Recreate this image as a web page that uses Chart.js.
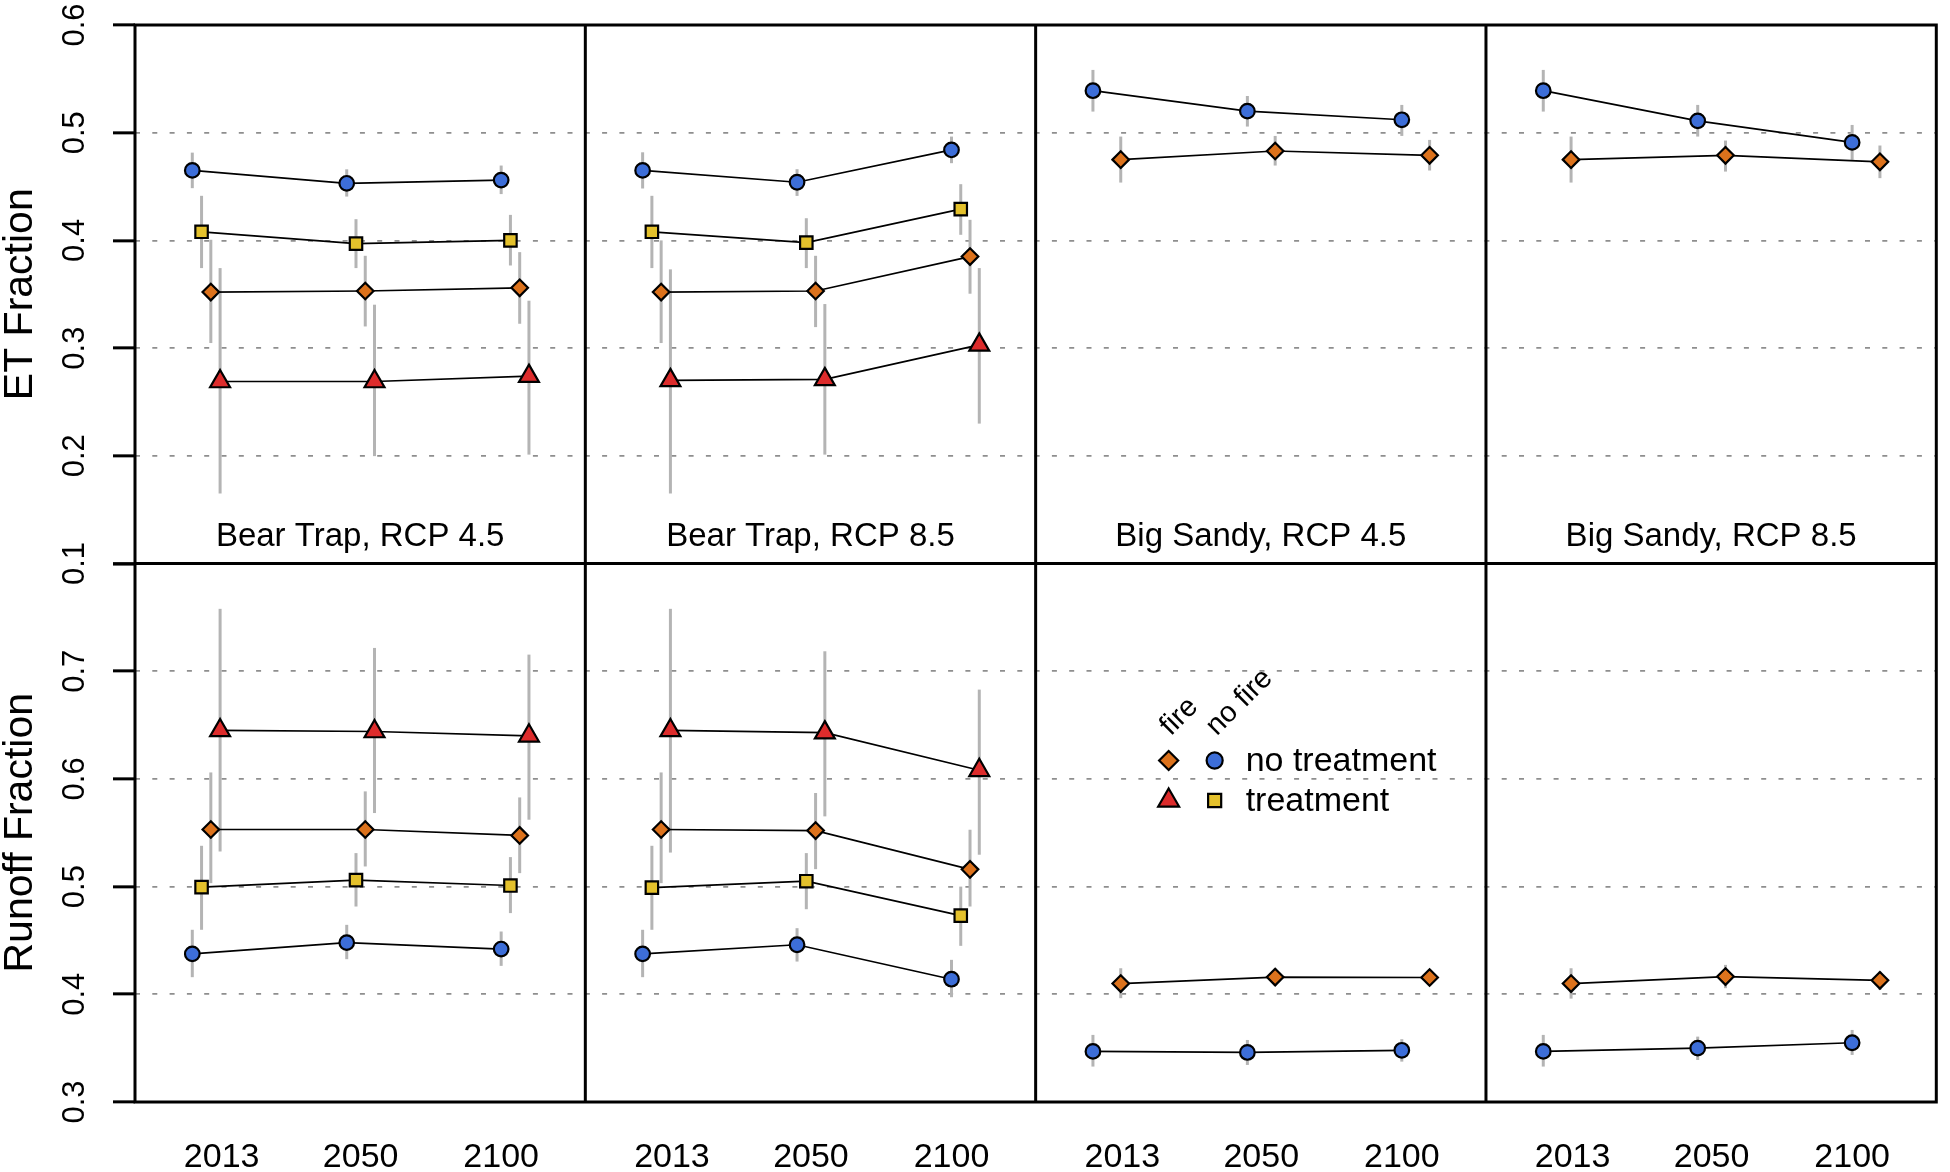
<!DOCTYPE html>
<html>
<head>
<meta charset="utf-8">
<script src="https://cdn.jsdelivr.net/npm/chart.js@4.4.1/dist/chart.umd.min.js"></script>
<style>
  html, body { margin: 0; padding: 0; background: #fff; }
  #wrap { position: relative; width: 1950px; height: 1172px; }
</style>
</head>
<body>
<div id="wrap"><canvas id="chart" width="1950" height="1172"></canvas></div>
<script>
// ET / runoff fractions by site and scenario, 2013–2100, with uncertainty ranges.
const YEARS = ["2013", "2050", "2100"];
const PANELS = ["Bear Trap, RCP 4.5", "Bear Trap, RCP 8.5", "Big Sandy, RCP 4.5", "Big Sandy, RCP 8.5"];
const ROW_TITLES = ["ET Fraction", "Runoff Fraction"];
const ET_TICKS = [0.1, 0.2, 0.3, 0.4, 0.5, 0.6];
const RUNOFF_TICKS = [0.3, 0.4, 0.5, 0.6, 0.7, 0.8];

// one entry per panel (Big Sandy has no treatment runs -> null)
const ET_NOFIRE      = [[0.465, 0.453, 0.456], [0.465, 0.454, 0.484], [0.539, 0.520, 0.512], [0.539, 0.511, 0.491]];
const ET_NOFIRE_LO   = [[0.4485, 0.4407, 0.443], [0.4482, 0.4413, 0.4717], [0.5196, 0.5057, 0.497], [0.5196, 0.4964, 0.4748]];
const ET_NOFIRE_HI   = [[0.4815, 0.466, 0.4695], [0.4818, 0.4661, 0.4964], [0.5583, 0.5341, 0.5258], [0.5583, 0.5258, 0.5072]];
const ET_NOFIRE_TRT    = [[0.408, 0.397, 0.400], [0.408, 0.398, 0.429], null, null];
const ET_NOFIRE_TRT_LO = [[0.3743, 0.3743, 0.3767], [0.3743, 0.3743, 0.4052], null, null];
const ET_NOFIRE_TRT_HI = [[0.4414, 0.4197, 0.4237], [0.4414, 0.4206, 0.4522], null, null];
const ET_FIRE        = [[0.352, 0.353, 0.356], [0.352, 0.353, 0.385], [0.475, 0.483, 0.479], [0.475, 0.479, 0.473]];
const ET_FIRE_LO     = [[0.3047, 0.3201, 0.3226], [0.3047, 0.3195, 0.3505], [0.4537, 0.4695, 0.4649], [0.4537, 0.4639, 0.4578]];
const ET_FIRE_HI     = [[0.4006, 0.3857, 0.3891], [0.400, 0.3857, 0.4191], [0.4964, 0.497, 0.4933], [0.4964, 0.4927, 0.4881]];
const ET_FIRE_TRT    = [[0.269, 0.269, 0.274], [0.270, 0.271, 0.303], null, null];
const ET_FIRE_TRT_LO = [[0.165, 0.1997, 0.2011], [0.165, 0.2011, 0.2299], null, null];
const ET_FIRE_TRT_HI = [[0.3743, 0.3403, 0.344], [0.3731, 0.3409, 0.3743], null, null];

const RO_NOFIRE      = [[0.4375, 0.448, 0.442], [0.4375, 0.446, 0.414], [0.347, 0.346, 0.348], [0.347, 0.350, 0.355]];
const RO_NOFIRE_LO   = [[0.4159, 0.4326, 0.4264], [0.4159, 0.4304, 0.3973], [0.3329, 0.3344, 0.3375], [0.3329, 0.339, 0.3437]];
const RO_NOFIRE_HI   = [[0.4599, 0.4645, 0.4583], [0.4599, 0.4614, 0.432], [0.3623, 0.3576, 0.3583], [0.3623, 0.3607, 0.3669]];
const RO_NOFIRE_TRT    = [[0.4995, 0.506, 0.501], [0.499, 0.505, 0.473], null, null];
const RO_NOFIRE_TRT_LO = [[0.4599, 0.4815, 0.4754], [0.4599, 0.479, 0.445], null, null];
const RO_NOFIRE_TRT_HI = [[0.5379, 0.5311, 0.5274], [0.5379, 0.5311, 0.500], null, null];
const RO_FIRE        = [[0.553, 0.553, 0.5475], [0.553, 0.552, 0.516], [0.410, 0.416, 0.4156], [0.410, 0.4165, 0.413]];
const RO_FIRE_LO     = [[0.5032, 0.5187, 0.5125], [0.5032, 0.5162, 0.4815], [0.3964, 0.408, 0.408], [0.396, 0.4057, 0.4041]];
const RO_FIRE_HI     = [[0.606, 0.5884, 0.5828], [0.606, 0.5869, 0.5528], [0.4242, 0.424, 0.423], [0.4242, 0.4273, 0.4211]];
const RO_FIRE_TRT    = [[0.645, 0.644, 0.640], [0.645, 0.643, 0.608], null, null];
const RO_FIRE_TRT_LO = [[0.5326, 0.5683, 0.5621], [0.5316, 0.5652, 0.5296], null, null];
const RO_FIRE_TRT_HI = [[0.7579, 0.7216, 0.7154], [0.7579, 0.7185, 0.6829], null, null];

const FONT = '"Liberation Sans", Arial, Helvetica, sans-serif';
const BAR_COLOR = "#b4b4b4";
const GRID_COLOR = "#8e8e8e";

// x layout per panel: years sit at slots 1,2,3; series are dodged right of the slot
const YEAR_SLOT = [1, 2, 3];
const X_MIN = 0.629, X_MAX = 3.545;
const YEAR_TICK_AT = [1.19, 2.09, 3.0];

const SERIES = [
  { key: "noFire",    style: "circle",   color: "#3d6ed8", radius: 7.3, dodge: 0 },
  { key: "noFireTrt", style: "rect",     color: "#e4c12c", radius: 8.8, dodge: 0.06 },
  { key: "fire",      style: "rectRot",  color: "#dc721c", radius: 8.3, dodge: 0.12 },
  { key: "fireTrt",   style: "triangle", color: "#dd2c2c", radius: 11.5, dodge: 0.18 },
];

const ROWS = [
  { axis: "yTop", noFire: [ET_NOFIRE, ET_NOFIRE_LO, ET_NOFIRE_HI], noFireTrt: [ET_NOFIRE_TRT, ET_NOFIRE_TRT_LO, ET_NOFIRE_TRT_HI],
    fire: [ET_FIRE, ET_FIRE_LO, ET_FIRE_HI], fireTrt: [ET_FIRE_TRT, ET_FIRE_TRT_LO, ET_FIRE_TRT_HI] },
  { axis: "yBot", noFire: [RO_NOFIRE, RO_NOFIRE_LO, RO_NOFIRE_HI], noFireTrt: [RO_NOFIRE_TRT, RO_NOFIRE_TRT_LO, RO_NOFIRE_TRT_HI],
    fire: [RO_FIRE, RO_FIRE_LO, RO_FIRE_HI], fireTrt: [RO_FIRE_TRT, RO_FIRE_TRT_LO, RO_FIRE_TRT_HI] },
];

const datasets = [];
ROWS.forEach((row) => {
  PANELS.forEach((_, p) => {
    const hasTrt = !!row.fireTrt[0][p];
    SERIES.forEach((s) => {
      const [mid, lo, hi] = row[s.key];
      if (!mid[p]) return;
      // without treatment runs the fire series takes the outer slot
      const dodge = (s.key === "fire" && !hasTrt) ? 0.18 : s.dodge;
      datasets.push({
        type: "line",
        xAxisID: "x" + p, yAxisID: row.axis,
        data: mid[p].map((v, i) => ({ x: YEAR_SLOT[i] + dodge, y: v })),
        errLo: lo[p], errHi: hi[p],
        borderColor: "#000", borderWidth: 1.7, tension: 0, fill: false,
        pointStyle: s.style, pointRadius: s.radius, pointHoverRadius: s.radius,
        pointBackgroundColor: s.color, pointBorderColor: "#000", pointBorderWidth: 2.2,
      });
    });
  });
});

function drawMarker(ctx, style, x, y, r) {
  ctx.beginPath();
  if (style === "circle") ctx.arc(x, y, r, 0, Math.PI * 2);
  else if (style === "rect") { const s = r * Math.SQRT1_2; ctx.rect(x - s, y - s, 2 * s, 2 * s); }
  else if (style === "rectRot") { ctx.moveTo(x, y - r); ctx.lineTo(x + r, y); ctx.lineTo(x, y + r); ctx.lineTo(x - r, y); ctx.closePath(); }
  else { const h = r * Math.sqrt(3) / 2; ctx.moveTo(x, y - r); ctx.lineTo(x + h, y + r / 2); ctx.lineTo(x - h, y + r / 2); ctx.closePath(); }
  ctx.fill(); ctx.stroke();
}

// gray vertical uncertainty bars, drawn under lines and markers
const errorBars = {
  id: "errorBars",
  beforeDatasetsDraw(chart) {
    const ctx = chart.ctx;
    ctx.save();
    ctx.strokeStyle = BAR_COLOR; ctx.lineWidth = 3;
    chart.data.datasets.forEach((ds) => {
      const xs = chart.scales[ds.xAxisID], ys = chart.scales[ds.yAxisID];
      ds.data.forEach((pt, i) => {
        const x = xs.getPixelForValue(pt.x);
        ctx.beginPath();
        ctx.moveTo(x, ys.getPixelForValue(ds.errLo[i]));
        ctx.lineTo(x, ys.getPixelForValue(ds.errHi[i]));
        ctx.stroke();
      });
    });
    ctx.restore();
  },
};

// panel boxes, panel titles and the fire / treatment key
const panelChrome = {
  id: "panelChrome",
  afterDatasetsDraw(chart) {
    const ctx = chart.ctx, a = chart.chartArea, yT = chart.scales.yTop;
    ctx.save();
    ctx.strokeStyle = "#000"; ctx.lineWidth = 3;
    ctx.strokeRect(a.left, a.top, a.right - a.left, a.bottom - a.top);
    ctx.beginPath();
    ctx.moveTo(a.left, yT.bottom); ctx.lineTo(a.right, yT.bottom);
    for (let p = 1; p < PANELS.length; p++) {
      const l = chart.scales["x" + p].left;
      ctx.moveTo(l, a.top); ctx.lineTo(l, a.bottom);
    }
    ctx.stroke();

    ctx.fillStyle = "#000";
    ctx.font = `33px ${FONT}`;
    ctx.textAlign = "center"; ctx.textBaseline = "alphabetic";
    PANELS.forEach((t, p) => {
      const xs = chart.scales["x" + p];
      ctx.fillText(t, (xs.left + xs.right) / 2, yT.bottom - 18);
    });

    // key inside Big Sandy RCP 4.5 runoff panel
    const x0 = chart.scales.x2.left, y0 = chart.scales.yBot.top;
    const colA = x0 + 133, colB = x0 + 179;
    const row1 = y0 + 197, row2 = y0 + 237;
    ctx.lineWidth = 2.2; ctx.strokeStyle = "#000";
    const mk = (s, x, y, scale) => { ctx.fillStyle = s.color; drawMarker(ctx, s.style, x, y, s.radius * scale); };
    mk(SERIES[2], colA, row1, 1.15);
    mk(SERIES[0], colB, row1, 1.1);
    mk(SERIES[3], colA, row2, 1.05);
    mk(SERIES[1], colB, row2, 1.05);
    ctx.fillStyle = "#000";
    ctx.font = `34px ${FONT}`;
    ctx.textAlign = "left"; ctx.textBaseline = "middle";
    ctx.fillText("no treatment", x0 + 210, row1 + 1);
    ctx.fillText("treatment", x0 + 210, row2 + 1);
    ctx.font = `29px ${FONT}`;
    ctx.textBaseline = "alphabetic";
    [["fire", colA + 2], ["no fire", colB + 2]].forEach(([t, x]) => {
      ctx.save();
      ctx.translate(x, y0 + 173);
      ctx.rotate(-Math.PI / 4);
      ctx.fillText(t, 0, 0);
      ctx.restore();
    });
    ctx.restore();
  },
};

const near = (a, b) => Math.abs(a - b) < 1e-6;

function yAxis(ticks, title, weight, hideTop) {
  const lo = ticks[0], hi = ticks[ticks.length - 1];
  return {
    type: "linear", position: "left", stack: "rows", stackWeight: 1, weight,
    min: lo, max: hi,
    afterBuildTicks: (sc) => { sc.ticks = ticks.map((v) => ({ value: v })); },
    afterFit: (sc) => { sc.width = 135; sc.paddingTop = 0; sc.paddingBottom = 0; },
    grid: {
      color: (c) => (c.tick && (near(c.tick.value, lo) || near(c.tick.value, hi))) ? "rgba(0,0,0,0)" : GRID_COLOR,
      lineWidth: 1.7, drawTicks: true, tickLength: 22, tickWidth: 3, tickColor: "#000", tickBorderDash: [],
    },
    border: { display: false, dash: [5, 12.3] },
    ticks: {
      minRotation: 90, maxRotation: 90, crossAlign: "center", padding: 16, autoSkip: false,
      color: "#000", font: { family: FONT, size: 31 },
      callback: (v) => (hideTop && near(v, hi)) ? "" : Number(v).toFixed(1),
    },
    title: {
      display: true, text: title, color: "#000",
      font: { family: FONT, size: 41, lineHeight: 1 }, padding: { top: 0, bottom: 0 },
    },
  };
}

const scales = {
  yTop: yAxis(ET_TICKS, ROW_TITLES[0], 1, false),
  yBot: yAxis(RUNOFF_TICKS, ROW_TITLES[1], 0, true),
};
PANELS.forEach((_, p) => {
  scales["x" + p] = {
    type: "linear", position: "bottom", stack: "cols", stackWeight: 1, weight: p,
    min: X_MIN, max: X_MAX,
    afterBuildTicks: (sc) => { sc.ticks = YEAR_TICK_AT.map((v) => ({ value: v })); },
    afterFit: (sc) => { sc.height = 70; sc.paddingLeft = 0; sc.paddingRight = 0; },
    grid: { display: false, drawTicks: false },
    border: { display: false },
    ticks: {
      autoSkip: false, minRotation: 0, maxRotation: 0, padding: 35,
      color: "#000", font: { family: FONT, size: 34 },
      callback: (v, i) => YEARS[i],
    },
  };
});

new Chart(document.getElementById("chart"), {
  type: "line",
  data: { datasets },
  options: {
    responsive: false, animation: false,
    layout: { padding: { top: 25, right: 4, bottom: 0, left: 0 } },
    plugins: { legend: { display: false }, tooltip: { enabled: false } },
    scales,
  },
  plugins: [errorBars, panelChrome],
});
</script>
</body>
</html>
